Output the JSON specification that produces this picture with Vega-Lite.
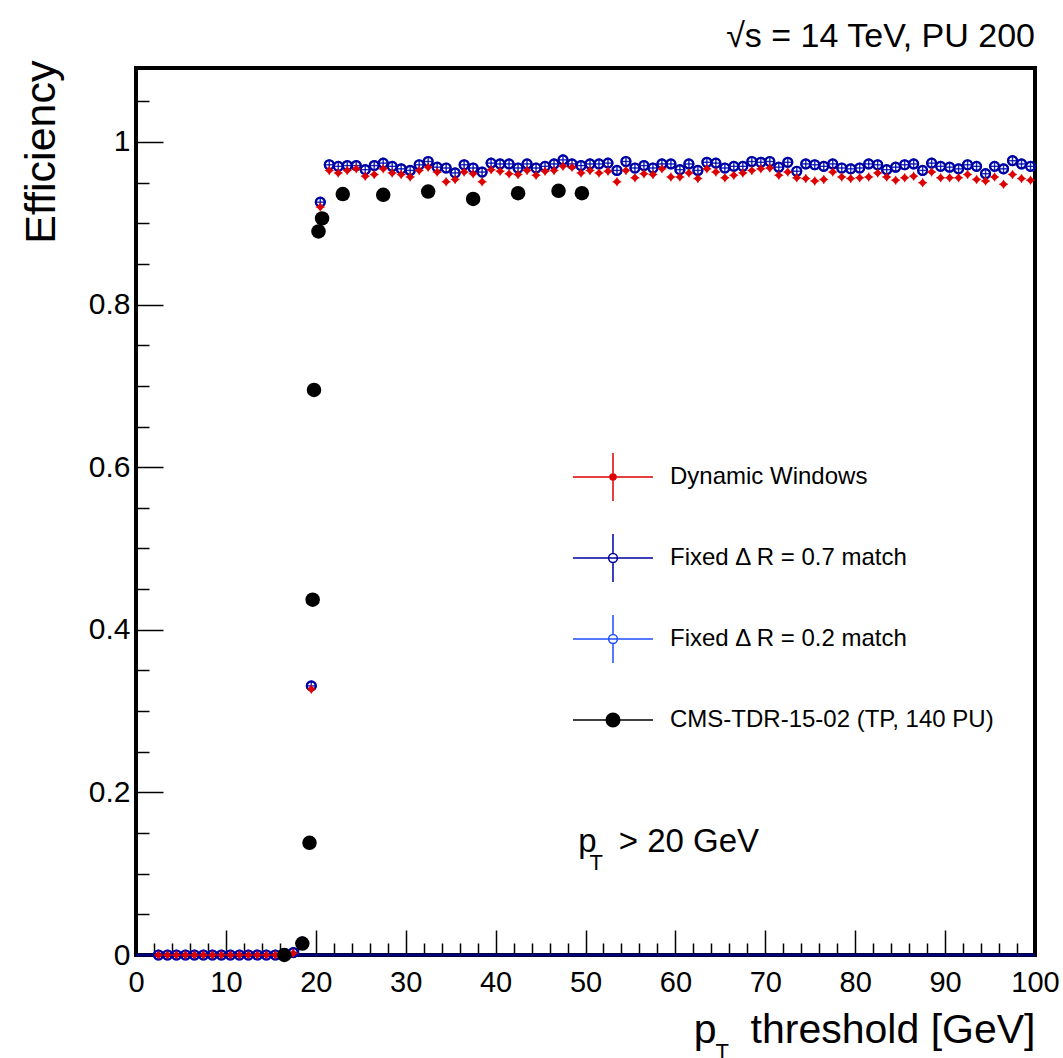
{
  "$schema": "https://vega.github.io/schema/vega-lite/v6.json",
  "width": 899,
  "height": 887,
  "autosize": {"type": "none"},
  "padding": {"left": 136, "top": 68, "right": 28, "bottom": 103},
  "background": "white",
  "title": {"text": "√s = 14 TeV, PU 200", "anchor": "end", "frame": "group", "fontSize": 34, "font": "Liberation Sans", "fontWeight": "normal", "color": "black", "offset": 21, "dy": 42, "baseline": "alphabetic"},
  "config": {
    "view": {"stroke": "black", "strokeWidth": 4},
    "font": "Liberation Sans"
  },
  "datasets": {
    "dyn": [
      {"pt": 2.5, "eff": 0}, {"pt": 3.5, "eff": 0}, {"pt": 4.5, "eff": 0}, {"pt": 5.5, "eff": 0}, {"pt": 6.5, "eff": 0},
      {"pt": 7.5, "eff": 0}, {"pt": 8.5, "eff": 0}, {"pt": 9.5, "eff": 0}, {"pt": 10.5, "eff": 0}, {"pt": 11.5, "eff": 0},
      {"pt": 12.5, "eff": 0}, {"pt": 13.5, "eff": 0}, {"pt": 14.5, "eff": 0}, {"pt": 15.5, "eff": 0}, {"pt": 16.5, "eff": 0},
      {"pt": 17.5, "eff": 0.002}, {"pt": 18.5, "eff": 0.013}, {"pt": 19.5, "eff": 0.327}, {"pt": 20.5, "eff": 0.920},
      {"pt": 21.5, "eff": 0.965}, {"pt": 22.5, "eff": 0.962}, {"pt": 23.5, "eff": 0.965}, {"pt": 24.5, "eff": 0.967}, {"pt": 25.5, "eff": 0.958},
      {"pt": 26.5, "eff": 0.960}, {"pt": 27.5, "eff": 0.967}, {"pt": 28.5, "eff": 0.962}, {"pt": 29.5, "eff": 0.960}, {"pt": 30.5, "eff": 0.957},
      {"pt": 31.5, "eff": 0.965}, {"pt": 32.5, "eff": 0.969}, {"pt": 33.5, "eff": 0.963}, {"pt": 34.5, "eff": 0.951}, {"pt": 35.5, "eff": 0.954},
      {"pt": 36.5, "eff": 0.963}, {"pt": 37.5, "eff": 0.961}, {"pt": 38.5, "eff": 0.951}, {"pt": 39.5, "eff": 0.966}, {"pt": 40.5, "eff": 0.964},
      {"pt": 41.5, "eff": 0.961}, {"pt": 42.5, "eff": 0.960}, {"pt": 43.5, "eff": 0.965}, {"pt": 44.5, "eff": 0.959}, {"pt": 45.5, "eff": 0.964},
      {"pt": 46.5, "eff": 0.965}, {"pt": 47.5, "eff": 0.970}, {"pt": 48.5, "eff": 0.969}, {"pt": 49.5, "eff": 0.962}, {"pt": 50.5, "eff": 0.965},
      {"pt": 51.5, "eff": 0.962}, {"pt": 52.5, "eff": 0.964}, {"pt": 53.5, "eff": 0.951}, {"pt": 54.5, "eff": 0.965}, {"pt": 55.5, "eff": 0.956},
      {"pt": 56.5, "eff": 0.961}, {"pt": 57.5, "eff": 0.960}, {"pt": 58.5, "eff": 0.967}, {"pt": 59.5, "eff": 0.957}, {"pt": 60.5, "eff": 0.957},
      {"pt": 61.5, "eff": 0.962}, {"pt": 62.5, "eff": 0.955}, {"pt": 63.5, "eff": 0.967}, {"pt": 64.5, "eff": 0.963}, {"pt": 65.5, "eff": 0.956},
      {"pt": 66.5, "eff": 0.959}, {"pt": 67.5, "eff": 0.962}, {"pt": 68.5, "eff": 0.965}, {"pt": 69.5, "eff": 0.967}, {"pt": 70.5, "eff": 0.968},
      {"pt": 71.5, "eff": 0.959}, {"pt": 72.5, "eff": 0.963}, {"pt": 73.5, "eff": 0.956}, {"pt": 74.5, "eff": 0.955}, {"pt": 75.5, "eff": 0.952},
      {"pt": 76.5, "eff": 0.954}, {"pt": 77.5, "eff": 0.963}, {"pt": 78.5, "eff": 0.957}, {"pt": 79.5, "eff": 0.955}, {"pt": 80.5, "eff": 0.956},
      {"pt": 81.5, "eff": 0.957}, {"pt": 82.5, "eff": 0.962}, {"pt": 83.5, "eff": 0.957}, {"pt": 84.5, "eff": 0.953}, {"pt": 85.5, "eff": 0.956},
      {"pt": 86.5, "eff": 0.958}, {"pt": 87.5, "eff": 0.950}, {"pt": 88.5, "eff": 0.963}, {"pt": 89.5, "eff": 0.956}, {"pt": 90.5, "eff": 0.956},
      {"pt": 91.5, "eff": 0.956}, {"pt": 92.5, "eff": 0.960}, {"pt": 93.5, "eff": 0.954}, {"pt": 94.5, "eff": 0.952}, {"pt": 95.5, "eff": 0.957},
      {"pt": 96.5, "eff": 0.948}, {"pt": 97.5, "eff": 0.960}, {"pt": 98.5, "eff": 0.955}, {"pt": 99.5, "eff": 0.953}
    ],
    "dr07": [
      {"pt": 2.5, "eff": 0}, {"pt": 3.5, "eff": 0}, {"pt": 4.5, "eff": 0}, {"pt": 5.5, "eff": 0}, {"pt": 6.5, "eff": 0},
      {"pt": 7.5, "eff": 0}, {"pt": 8.5, "eff": 0}, {"pt": 9.5, "eff": 0}, {"pt": 10.5, "eff": 0}, {"pt": 11.5, "eff": 0},
      {"pt": 12.5, "eff": 0}, {"pt": 13.5, "eff": 0}, {"pt": 14.5, "eff": 0}, {"pt": 15.5, "eff": 0}, {"pt": 16.5, "eff": 0},
      {"pt": 17.5, "eff": 0.003}, {"pt": 18.5, "eff": 0.016}, {"pt": 19.5, "eff": 0.331}, {"pt": 20.5, "eff": 0.926},
      {"pt": 21.5, "eff": 0.972}, {"pt": 22.5, "eff": 0.970}, {"pt": 23.5, "eff": 0.971}, {"pt": 24.5, "eff": 0.971}, {"pt": 25.5, "eff": 0.966},
      {"pt": 26.5, "eff": 0.971}, {"pt": 27.5, "eff": 0.974}, {"pt": 28.5, "eff": 0.970}, {"pt": 29.5, "eff": 0.967}, {"pt": 30.5, "eff": 0.965},
      {"pt": 31.5, "eff": 0.972}, {"pt": 32.5, "eff": 0.976}, {"pt": 33.5, "eff": 0.969}, {"pt": 34.5, "eff": 0.968}, {"pt": 35.5, "eff": 0.962},
      {"pt": 36.5, "eff": 0.972}, {"pt": 37.5, "eff": 0.968}, {"pt": 38.5, "eff": 0.963}, {"pt": 39.5, "eff": 0.974}, {"pt": 40.5, "eff": 0.973},
      {"pt": 41.5, "eff": 0.973}, {"pt": 42.5, "eff": 0.968}, {"pt": 43.5, "eff": 0.973}, {"pt": 44.5, "eff": 0.968}, {"pt": 45.5, "eff": 0.970},
      {"pt": 46.5, "eff": 0.973}, {"pt": 47.5, "eff": 0.978}, {"pt": 48.5, "eff": 0.973}, {"pt": 49.5, "eff": 0.971}, {"pt": 50.5, "eff": 0.973},
      {"pt": 51.5, "eff": 0.973}, {"pt": 52.5, "eff": 0.974}, {"pt": 53.5, "eff": 0.965}, {"pt": 54.5, "eff": 0.976}, {"pt": 55.5, "eff": 0.968},
      {"pt": 56.5, "eff": 0.971}, {"pt": 57.5, "eff": 0.968}, {"pt": 58.5, "eff": 0.973}, {"pt": 59.5, "eff": 0.973}, {"pt": 60.5, "eff": 0.966},
      {"pt": 61.5, "eff": 0.973}, {"pt": 62.5, "eff": 0.965}, {"pt": 63.5, "eff": 0.975}, {"pt": 64.5, "eff": 0.974}, {"pt": 65.5, "eff": 0.968},
      {"pt": 66.5, "eff": 0.970}, {"pt": 67.5, "eff": 0.970}, {"pt": 68.5, "eff": 0.976}, {"pt": 69.5, "eff": 0.975}, {"pt": 70.5, "eff": 0.976},
      {"pt": 71.5, "eff": 0.969}, {"pt": 72.5, "eff": 0.975}, {"pt": 73.5, "eff": 0.964}, {"pt": 74.5, "eff": 0.973}, {"pt": 75.5, "eff": 0.972},
      {"pt": 76.5, "eff": 0.970}, {"pt": 77.5, "eff": 0.973}, {"pt": 78.5, "eff": 0.968}, {"pt": 79.5, "eff": 0.967}, {"pt": 80.5, "eff": 0.968},
      {"pt": 81.5, "eff": 0.973}, {"pt": 82.5, "eff": 0.972}, {"pt": 83.5, "eff": 0.966}, {"pt": 84.5, "eff": 0.969}, {"pt": 85.5, "eff": 0.972},
      {"pt": 86.5, "eff": 0.973}, {"pt": 87.5, "eff": 0.965}, {"pt": 88.5, "eff": 0.974}, {"pt": 89.5, "eff": 0.970}, {"pt": 90.5, "eff": 0.969},
      {"pt": 91.5, "eff": 0.967}, {"pt": 92.5, "eff": 0.972}, {"pt": 93.5, "eff": 0.970}, {"pt": 94.5, "eff": 0.961}, {"pt": 95.5, "eff": 0.970},
      {"pt": 96.5, "eff": 0.967}, {"pt": 97.5, "eff": 0.977}, {"pt": 98.5, "eff": 0.973}, {"pt": 99.5, "eff": 0.970}
    ],
    "dr02": [
      {"pt": 2.5, "eff": 0}, {"pt": 3.5, "eff": 0}, {"pt": 4.5, "eff": 0}, {"pt": 5.5, "eff": 0}, {"pt": 6.5, "eff": 0},
      {"pt": 7.5, "eff": 0}, {"pt": 8.5, "eff": 0}, {"pt": 9.5, "eff": 0}, {"pt": 10.5, "eff": 0}, {"pt": 11.5, "eff": 0},
      {"pt": 12.5, "eff": 0}, {"pt": 13.5, "eff": 0}, {"pt": 14.5, "eff": 0}, {"pt": 15.5, "eff": 0}, {"pt": 16.5, "eff": 0},
      {"pt": 17.5, "eff": 0.003}, {"pt": 18.5, "eff": 0.016}, {"pt": 19.5, "eff": 0.331}, {"pt": 20.5, "eff": 0.926},
      {"pt": 21.5, "eff": 0.972}, {"pt": 22.5, "eff": 0.970}, {"pt": 23.5, "eff": 0.971}, {"pt": 24.5, "eff": 0.971}, {"pt": 25.5, "eff": 0.966},
      {"pt": 26.5, "eff": 0.971}, {"pt": 27.5, "eff": 0.974}, {"pt": 28.5, "eff": 0.970}, {"pt": 29.5, "eff": 0.967}, {"pt": 30.5, "eff": 0.965},
      {"pt": 31.5, "eff": 0.972}, {"pt": 32.5, "eff": 0.976}, {"pt": 33.5, "eff": 0.969}, {"pt": 34.5, "eff": 0.968}, {"pt": 35.5, "eff": 0.962},
      {"pt": 36.5, "eff": 0.972}, {"pt": 37.5, "eff": 0.968}, {"pt": 38.5, "eff": 0.963}, {"pt": 39.5, "eff": 0.974}, {"pt": 40.5, "eff": 0.973},
      {"pt": 41.5, "eff": 0.973}, {"pt": 42.5, "eff": 0.968}, {"pt": 43.5, "eff": 0.973}, {"pt": 44.5, "eff": 0.968}, {"pt": 45.5, "eff": 0.970},
      {"pt": 46.5, "eff": 0.973}, {"pt": 47.5, "eff": 0.978}, {"pt": 48.5, "eff": 0.973}, {"pt": 49.5, "eff": 0.971}, {"pt": 50.5, "eff": 0.973},
      {"pt": 51.5, "eff": 0.973}, {"pt": 52.5, "eff": 0.974}, {"pt": 53.5, "eff": 0.965}, {"pt": 54.5, "eff": 0.976}, {"pt": 55.5, "eff": 0.968},
      {"pt": 56.5, "eff": 0.971}, {"pt": 57.5, "eff": 0.968}, {"pt": 58.5, "eff": 0.973}, {"pt": 59.5, "eff": 0.973}, {"pt": 60.5, "eff": 0.966},
      {"pt": 61.5, "eff": 0.973}, {"pt": 62.5, "eff": 0.965}, {"pt": 63.5, "eff": 0.975}, {"pt": 64.5, "eff": 0.974}, {"pt": 65.5, "eff": 0.968},
      {"pt": 66.5, "eff": 0.970}, {"pt": 67.5, "eff": 0.970}, {"pt": 68.5, "eff": 0.976}, {"pt": 69.5, "eff": 0.975}, {"pt": 70.5, "eff": 0.976},
      {"pt": 71.5, "eff": 0.969}, {"pt": 72.5, "eff": 0.975}, {"pt": 73.5, "eff": 0.964}, {"pt": 74.5, "eff": 0.973}, {"pt": 75.5, "eff": 0.972},
      {"pt": 76.5, "eff": 0.970}, {"pt": 77.5, "eff": 0.973}, {"pt": 78.5, "eff": 0.968}, {"pt": 79.5, "eff": 0.967}, {"pt": 80.5, "eff": 0.968},
      {"pt": 81.5, "eff": 0.973}, {"pt": 82.5, "eff": 0.972}, {"pt": 83.5, "eff": 0.966}, {"pt": 84.5, "eff": 0.969}, {"pt": 85.5, "eff": 0.972},
      {"pt": 86.5, "eff": 0.973}, {"pt": 87.5, "eff": 0.965}, {"pt": 88.5, "eff": 0.974}, {"pt": 89.5, "eff": 0.970}, {"pt": 90.5, "eff": 0.969},
      {"pt": 91.5, "eff": 0.967}, {"pt": 92.5, "eff": 0.972}, {"pt": 93.5, "eff": 0.970}, {"pt": 94.5, "eff": 0.961}, {"pt": 95.5, "eff": 0.970},
      {"pt": 96.5, "eff": 0.967}, {"pt": 97.5, "eff": 0.977}, {"pt": 98.5, "eff": 0.973}, {"pt": 99.5, "eff": 0.970}
    ],
    "cms": [
      {"pt": 16.5, "eff": 0.0}, {"pt": 18.5, "eff": 0.014}, {"pt": 19.3, "eff": 0.138}, {"pt": 19.65, "eff": 0.437},
      {"pt": 19.8, "eff": 0.695}, {"pt": 20.3, "eff": 0.890}, {"pt": 20.7, "eff": 0.906}, {"pt": 23.0, "eff": 0.936},
      {"pt": 27.5, "eff": 0.935}, {"pt": 32.5, "eff": 0.939}, {"pt": 37.5, "eff": 0.930}, {"pt": 42.5, "eff": 0.937},
      {"pt": 47.0, "eff": 0.940}, {"pt": 49.6, "eff": 0.937}
    ]
  },
  "encoding": {
    "x": {
      "field": "pt", "type": "quantitative",
      "scale": {"domain": [0, 100], "nice": false, "zero": false},
      "axis": {
        "values": [0,2,4,6,8,10,12,14,16,18,20,22,24,26,28,30,32,34,36,38,40,42,44,46,48,50,52,54,56,58,60,62,64,66,68,70,72,74,76,78,80,82,84,86,88,90,92,94,96,98,100],
        "format": "d",
        "labelExpr": "indexof([0,10,20,30,40,50,60,70,80,90,100], datum.value) >= 0 ? datum.label : ''",
        "tickSize": {"condition": {"test": "indexof([0,10,20,30,40,50,60,70,80,90,100], datum.value) >= 0", "value": -25}, "value": -12},
        "tickColor": "black", "tickWidth": 1.5, "domain": false, "grid": false,
        "labelFontSize": 29, "labelColor": "black", "labelFont": "Liberation Sans", "labelFlush": false, "labelPadding": 38, "labelOverlap": false,
        "title": "p\u00a0\u00a0\u00a0threshold [GeV]", "titleFontSize": 41, "titleFontWeight": "normal", "titleColor": "black", "titleFont": "Liberation Sans",
        "titleX": 899, "titleY": 87, "titleAlign": "right", "titleAnchor": null, "titleBaseline": "alphabetic"
      }
    },
    "y": {
      "field": "eff", "type": "quantitative",
      "scale": {"domain": [0, 1.091], "nice": false},
      "axis": {
        "values": [0,0.05,0.1,0.15,0.2,0.25,0.3,0.35,0.4,0.45,0.5,0.55,0.6,0.65,0.7,0.75,0.8,0.85,0.9,0.95,1,1.05],
        "format": "~g",
        "labelExpr": "indexof([0,0.2,0.4,0.6,0.8,1], datum.value) >= 0 ? datum.label : ''",
        "tickSize": {"condition": {"test": "indexof([0,0.2,0.4,0.6,0.8,1], datum.value) >= 0", "value": -27}, "value": -13},
        "tickColor": "black", "tickWidth": 1.5, "domain": false, "grid": false,
        "labelFontSize": 30, "labelColor": "black", "labelFont": "Liberation Sans", "labelFlush": false, "labelPadding": 33, "labelOverlap": false,
        "title": "Efficiency", "titleFontSize": 43, "titleFontWeight": "normal", "titleColor": "black", "titleFont": "Liberation Sans",
        "titleX": -82, "titleY": -8, "titleAlign": "right", "titleAnchor": null, "titleBaseline": "alphabetic", "titleAngle": -90
      }
    }
  },
  "layer": [
    {
      "data": {"values": [{"pt": 0, "pt_end": 100, "eff": 0}]},
      "mark": {"type": "rule", "color": "#00007a", "strokeWidth": 3},
      "encoding": {"x2": {"field": "pt_end"}}
    },
    {
      "data": {"name": "dr02"},
      "mark": {"type": "tick", "orient": "horizontal", "size": 9, "thickness": 1.3, "color": "#1f4fff"}
    },
    {
      "data": {"name": "dr02"},
      "mark": {"type": "tick", "orient": "vertical", "size": 9, "thickness": 1.3, "color": "#1f4fff"}
    },
    {
      "data": {"name": "dr02"},
      "mark": {"type": "point", "shape": "circle", "size": 81, "strokeWidth": 2, "color": "#1f4fff", "filled": false, "opacity": 1}
    },
    {
      "data": {"name": "dr07"},
      "mark": {"type": "tick", "orient": "horizontal", "size": 9, "thickness": 1.3, "color": "#0000a0"}
    },
    {
      "data": {"name": "dr07"},
      "mark": {"type": "tick", "orient": "vertical", "size": 9, "thickness": 1.3, "color": "#0000a0"}
    },
    {
      "data": {"name": "dr07"},
      "mark": {"type": "point", "shape": "circle", "size": 81, "strokeWidth": 2.2, "color": "#0000a0", "filled": false, "opacity": 1}
    },
    {
      "data": {"name": "dyn"},
      "mark": {"type": "tick", "orient": "horizontal", "size": 9, "thickness": 1.3, "color": "#dd0000"}
    },
    {
      "data": {"name": "dyn"},
      "mark": {"type": "tick", "orient": "vertical", "size": 9, "thickness": 1.3, "color": "#dd0000"}
    },
    {
      "data": {"name": "dyn"},
      "mark": {"type": "point", "shape": "diamond", "size": 64, "color": "#dd0000", "filled": true, "opacity": 1}
    },
    {
      "data": {"name": "cms"},
      "mark": {"type": "point", "shape": "circle", "size": 210, "color": "black", "filled": true, "opacity": 1}
    },
    {
      "data": {"values": [{"pt": 49.2, "eff": 0.127}]},
      "mark": {"type": "text", "fontSize": 33, "font": "Liberation Sans", "align": "left", "baseline": "alphabetic", "color": "black", "text": "p"}
    },
    {
      "data": {"values": [{"pt": 51.2, "eff": 0.1045}]},
      "mark": {"type": "text", "fontSize": 22, "font": "Liberation Sans", "align": "center", "baseline": "alphabetic", "color": "black", "text": "T"}
    },
    {
      "data": {"values": [{"pt": 53.7, "eff": 0.127}]},
      "mark": {"type": "text", "fontSize": 33, "font": "Liberation Sans", "align": "left", "baseline": "alphabetic", "color": "black", "text": "> 20 GeV"}
    },
    {
      "data": {"values": [{"pt": 65.2, "eff": -0.128}]},
      "mark": {"type": "text", "fontSize": 22, "font": "Liberation Sans", "align": "center", "baseline": "alphabetic", "color": "black", "text": "T"}
    },
    {
      "data": {"values": []},
      "mark": {"type": "point", "strokeWidth": 1.5, "opacity": 1},
      "encoding": {
        "x": null, "y": null,
        "shape": {
          "field": "series", "type": "nominal",
          "scale": {
            "domain": ["Dynamic Windows", "Fixed Δ R = 0.7 match", "Fixed Δ R = 0.2 match", "CMS-TDR-15-02 (TP, 140 PU)"],
            "range": [
              "M-1,0H1M0,-0.6V0.6M0.075,0A0.075,0.075,0,1,1,-0.075,0A0.075,0.075,0,1,1,0.075,0Z",
              "M-1,0H1M0,-0.6V-0.11M0,0.11V0.6M0.11,0A0.11,0.11,0,1,1,-0.11,0A0.11,0.11,0,1,1,0.11,0Z",
              "M-1,0H1M0,-0.6V-0.11M0,0.11V0.6M0.11,0A0.11,0.11,0,1,1,-0.11,0A0.11,0.11,0,1,1,0.11,0Z",
              "M-1,0H1M0.17,0A0.17,0.17,0,1,1,-0.17,0A0.17,0.17,0,1,1,0.17,0Z"
            ]
          },
          "legend": {"orient": "none", "legendX": 436, "legendY": 368, "title": null, "symbolSize": 6400, "symbolStrokeWidth": 1.5, "labelFontSize": 24, "labelFont": "Liberation Sans", "labelColor": "black", "labelOffset": 16, "rowPadding": 13, "padding": 0, "labelLimit": 600}
        },
        "stroke": {
          "field": "series", "type": "nominal",
          "scale": {
            "domain": ["Dynamic Windows", "Fixed Δ R = 0.7 match", "Fixed Δ R = 0.2 match", "CMS-TDR-15-02 (TP, 140 PU)"],
            "range": ["#dd0000", "#0000a0", "#1f4fff", "black"]
          },
          "legend": {"orient": "none", "legendX": 436, "legendY": 368, "title": null, "symbolSize": 6400, "symbolStrokeWidth": 1.5, "labelFontSize": 24, "labelFont": "Liberation Sans", "labelColor": "black", "labelOffset": 16, "rowPadding": 13, "padding": 0, "labelLimit": 600}
        },
        "fill": {
          "field": "series", "type": "nominal",
          "scale": {
            "domain": ["Dynamic Windows", "Fixed Δ R = 0.7 match", "Fixed Δ R = 0.2 match", "CMS-TDR-15-02 (TP, 140 PU)"],
            "range": ["#dd0000", "white", "white", "black"]
          },
          "legend": {"orient": "none", "legendX": 436, "legendY": 368, "title": null, "symbolSize": 6400, "symbolStrokeWidth": 1.5, "labelFontSize": 24, "labelFont": "Liberation Sans", "labelColor": "black", "labelOffset": 16, "rowPadding": 13, "padding": 0, "labelLimit": 600}
        }
      }
    }
  ]
}
